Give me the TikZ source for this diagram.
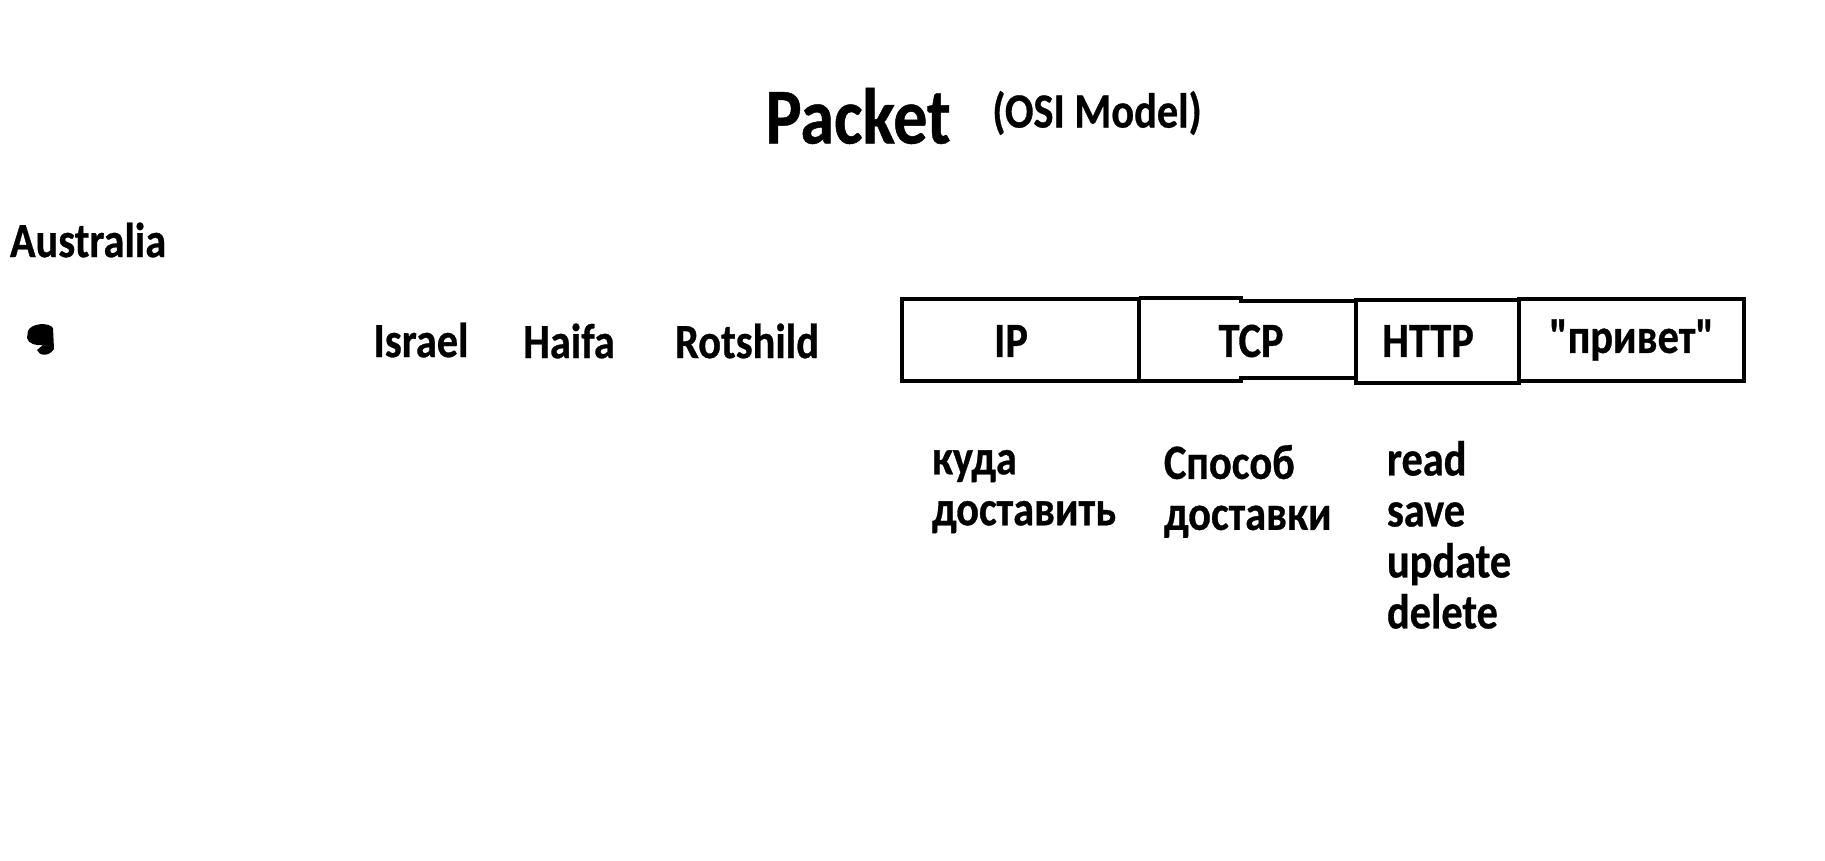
\documentclass[tikz,border=0pt]{standalone}
\usepackage{fontspec}
\setmainfont{Carlito}[FakeStretch=0.86, Ligatures=TeXOff, BoldFeatures={FakeBold=0.6}]
\usepackage{tikz}
\usetikzlibrary{positioning}

\begin{document}
\begin{tikzpicture}[x=0.01cm, y=-0.01cm, line width=1.1pt,
    lbl/.style={font=\fontsize{14}{14.5}\selectfont\bfseries, inner sep=0pt},
    note/.style={lbl, align=left, anchor=north west}]
        \useasboundingbox (0,0) rectangle (1825,861);
        % title
        \node[font=\fontsize{22.5}{24}\selectfont\bfseries, inner sep=0pt] (title) at (858,116) {Packet};
        \node[lbl] (osi) at (1097,113) {(OSI Model)};
        \node[lbl, anchor=west] (australia) at (8,240) {Australia};
        % blob
        \fill (28,331) .. controls (31,323) and (49,322) .. (53,328)
            -- (54,349) .. controls (49,357) and (39,356) .. (37,350)
            -- (43,345) .. controls (37,346) and (28,344) .. (27,338) -- cycle;
        % address
        \node[lbl] (israel) at (421,340) {Israel};
        \node[lbl] (haifa) at (569,341) {Haifa};
        \node[lbl] (rotshild) at (747,341) {Rotshild};
        % packet fields
        \draw (902,299) rectangle (1139,381);
        \node[lbl] (ip) at (1011,341) {IP};
        \draw (1139,298) -- (1241,298) -- (1241,301) -- (1356,301) -- (1356,378)
            -- (1241,378) -- (1241,381) -- (1139,381);
        \node[lbl] (tcp) at (1251,341) {TCP};
        \draw (1356,300) rectangle (1519,383);
        \node[lbl] (http) at (1428,341) {HTTP};
        \draw (1519,299) rectangle (1744,381) node[pos=.5, lbl] (msg) {"привет"};
        % notes
        \node[note] (where) at (930,448) {куда\\доставить};
        \node[note] (how) at (1162,443) {Способ\\доставки};
        \node[note] (crud) at (1385,439) {read\\save\\update\\delete};
    \end{tikzpicture}
\end{document}
